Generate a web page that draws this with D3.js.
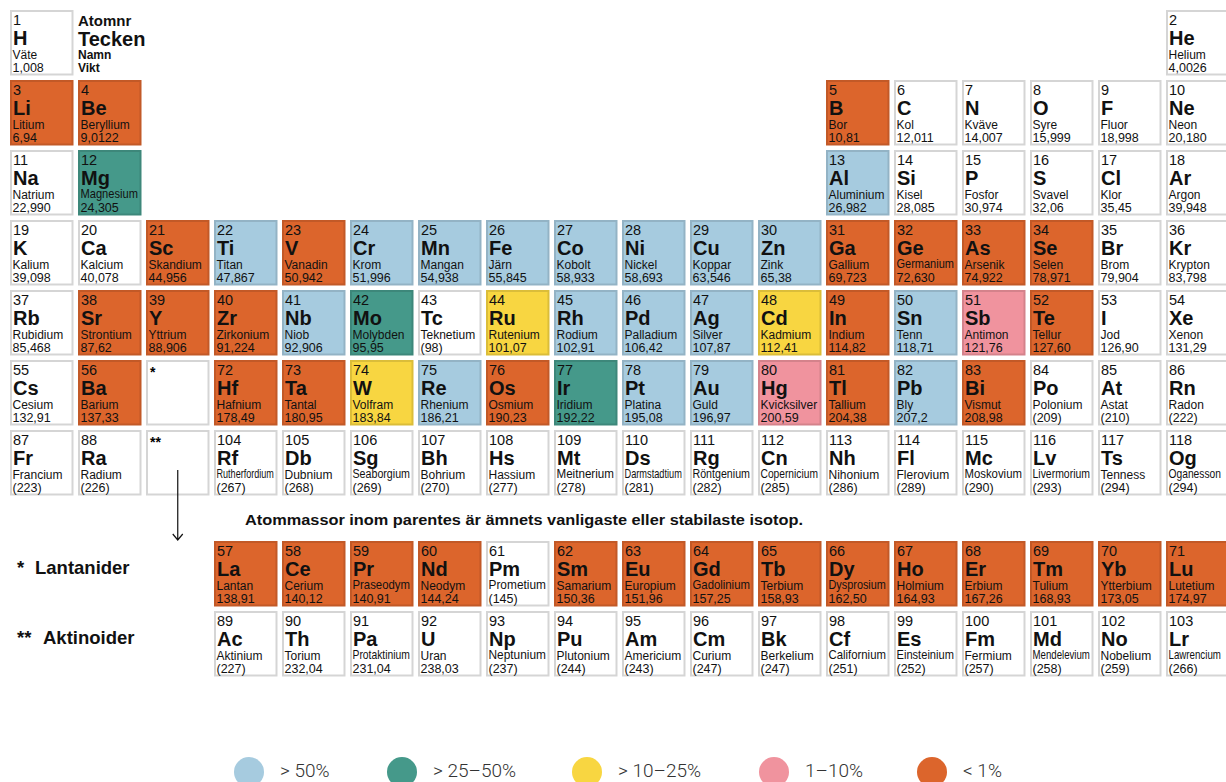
<!DOCTYPE html>
<html>
<head>
<meta charset="utf-8">
<script src="https://cdn.jsdelivr.net/npm/d3@7"></script>
<style>
  body { margin: 0; background: #fff; }
</style>
</head>
<body>
<svg id="chart" width="1226" height="782"></svg>
<script>
// atomic numbers, symbols, swedish names and weights, in order 1..118
const elNumbers = d3.range(1, 119);

const elSymbols = [
  "H","He",
  "Li","Be","B","C","N","O","F","Ne",
  "Na","Mg","Al","Si","P","S","Cl","Ar",
  "K","Ca","Sc","Ti","V","Cr","Mn","Fe","Co","Ni","Cu","Zn","Ga","Ge","As","Se","Br","Kr",
  "Rb","Sr","Y","Zr","Nb","Mo","Tc","Ru","Rh","Pd","Ag","Cd","In","Sn","Sb","Te","I","Xe",
  "Cs","Ba","La","Ce","Pr","Nd","Pm","Sm","Eu","Gd","Tb","Dy","Ho","Er","Tm","Yb","Lu",
  "Hf","Ta","W","Re","Os","Ir","Pt","Au","Hg","Tl","Pb","Bi","Po","At","Rn",
  "Fr","Ra","Ac","Th","Pa","U","Np","Pu","Am","Cm","Bk","Cf","Es","Fm","Md","No","Lr",
  "Rf","Db","Sg","Bh","Hs","Mt","Ds","Rg","Cn","Nh","Fl","Mc","Lv","Ts","Og"
];

const elNames = [
  "Väte","Helium",
  "Litium","Beryllium","Bor","Kol","Kväve","Syre","Fluor","Neon",
  "Natrium","Magnesium","Aluminium","Kisel","Fosfor","Svavel","Klor","Argon",
  "Kalium","Kalcium","Skandium","Titan","Vanadin","Krom","Mangan","Järn","Kobolt","Nickel","Koppar","Zink","Gallium","Germanium","Arsenik","Selen","Brom","Krypton",
  "Rubidium","Strontium","Yttrium","Zirkonium","Niob","Molybden","Teknetium","Rutenium","Rodium","Palladium","Silver","Kadmium","Indium","Tenn","Antimon","Tellur","Jod","Xenon",
  "Cesium","Barium","Lantan","Cerium","Praseodym","Neodym","Prometium","Samarium","Europium","Gadolinium","Terbium","Dysprosium","Holmium","Erbium","Tulium","Ytterbium","Lutetium",
  "Hafnium","Tantal","Volfram","Rhenium","Osmium","Iridium","Platina","Guld","Kvicksilver","Tallium","Bly","Vismut","Polonium","Astat","Radon",
  "Francium","Radium","Aktinium","Torium","Protaktinium","Uran","Neptunium","Plutonium","Americium","Curium","Berkelium","Californium","Einsteinium","Fermium","Mendelevium","Nobelium","Lawrencium",
  "Rutherfordium","Dubnium","Seaborgium","Bohrium","Hassium","Meitnerium","Darmstadtium","Röntgenium","Copernicium","Nihonium","Flerovium","Moskovium","Livermorium","Tenness","Oganesson"
];

const elWeights = [
  "1,008","4,0026",
  "6,94","9,0122","10,81","12,011","14,007","15,999","18,998","20,180",
  "22,990","24,305","26,982","28,085","30,974","32,06","35,45","39,948",
  "39,098","40,078","44,956","47,867","50,942","51,996","54,938","55,845","58,933","58,693","63,546","65,38","69,723","72,630","74,922","78,971","79,904","83,798",
  "85,468","87,62","88,906","91,224","92,906","95,95","(98)","101,07","102,91","106,42","107,87","112,41","114,82","118,71","121,76","127,60","126,90","131,29",
  "132,91","137,33","138,91","140,12","140,91","144,24","(145)","150,36","151,96","157,25","158,93","162,50","164,93","167,26","168,93","173,05","174,97",
  "178,49","180,95","183,84","186,21","190,23","192,22","195,08","196,97","200,59","204,38","207,2","208,98","(209)","(210)","(222)",
  "(223)","(226)","(227)","232,04","231,04","238,03","(237)","(244)","(243)","(247)","(247)","(251)","(252)","(257)","(258)","(259)","(266)",
  "(267)","(268)","(269)","(270)","(277)","(278)","(281)","(282)","(285)","(286)","(289)","(290)","(293)","(294)","(294)"
];

// table column (group) and row (period; 8 = lantanider, 9 = aktinoider)
const elGroups = [
  1,18,
  1,2,13,14,15,16,17,18,
  1,2,13,14,15,16,17,18,
  1,2,3,4,5,6,7,8,9,10,11,12,13,14,15,16,17,18,
  1,2,3,4,5,6,7,8,9,10,11,12,13,14,15,16,17,18,
  1,2,4,5,6,7,8,9,10,11,12,13,14,15,16,17,18,
  4,5,6,7,8,9,10,11,12,13,14,15,16,17,18,
  1,2,4,5,6,7,8,9,10,11,12,13,14,15,16,17,18,
  4,5,6,7,8,9,10,11,12,13,14,15,16,17,18
];

const elRows = [
  1,1,
  2,2,2,2,2,2,2,2,
  3,3,3,3,3,3,3,3,
  4,4,4,4,4,4,4,4,4,4,4,4,4,4,4,4,4,4,
  5,5,5,5,5,5,5,5,5,5,5,5,5,5,5,5,5,5,
  6,6,8,8,8,8,8,8,8,8,8,8,8,8,8,8,8,
  6,6,6,6,6,6,6,6,6,6,6,6,6,6,6,
  7,7,9,9,9,9,9,9,9,9,9,9,9,9,9,9,9,
  7,7,7,7,7,7,7,7,7,7,7,7,7,7,7
];

// abundance class: a >50%, b 25-50%, c 10-25%, d 1-10%, e <1%, "" none
const elAbundance = [
  "","",
  "e","e","e","","","","","",
  "","b","a","","","","","",
  "","","e","a","e","a","a","a","a","a","a","a","e","e","e","e","","",
  "","e","e","e","a","b","","c","a","a","a","c","e","a","d","e","","",
  "","e","e","e","e","e","","e","e","e","e","e","e","e","e","e","e",
  "e","e","c","a","e","b","a","a","d","e","a","e","","","",
  "","","","","","","","","","","","","","","","","",
  "","","","","","","","","","","","","","",""
];

const legendKeys = ["a","b","c","d","e"];
const legendLabels = ["> 50%", "> 25–50%", "> 10–25%", "1–10%", "< 1%"];
const legendColors = ["#a6cbdf", "#45998a", "#f8d641", "#f0939e", "#dc652c"];

const placeholders = [
  { group: 3, row: 6, mark: "*" },
  { group: 3, row: 7, mark: "**" }
];

const font = "'Liberation Sans', Arial, Helvetica, sans-serif";
const W = 1226;

const svg = d3.select("#chart");

const color = d3.scaleOrdinal().domain(legendKeys).range(legendColors);

const x = d3.scaleBand()
  .domain(d3.range(1, 19))
  .range([10, 1229.5])
  .paddingInner(4.5 / 68);

const yMain = d3.scaleBand()
  .domain(d3.range(1, 8))
  .range([10, 495.5])
  .paddingInner(4.5 / 70);

const yF = d3.scaleBand()
  .domain([8, 9])
  .range([541, 676.5])
  .paddingInner(4.5 / 70);

const y = r => (r <= 7 ? yMain(r) : yF(r));
const bw = x.bandwidth();
const bh = yMain.bandwidth();

const data = elNumbers.map((n, i) => ({
  num: n,
  sym: elSymbols[i],
  name: elNames[i],
  weight: elWeights[i],
  group: elGroups[i],
  row: elRows[i],
  ab: elAbundance[i]
}));

const cells = svg.append("g")
  .selectAll("g")
  .data(data)
  .join("g")
  .attr("transform", d => `translate(${x(d.group)},${y(d.row)})`);

cells.append("rect")
  .attr("x", 1).attr("y", 1)
  .attr("width", bw - 2).attr("height", bh - 2)
  .attr("fill", d => d.ab ? color(d.ab) : "#fff")
  .attr("stroke", d => d.ab ? d3.color(color(d.ab)).darker(0.35) : "#d5d5d5")
  .attr("stroke-width", 2);

cells.append("text")
  .attr("x", 3).attr("y", 15)
  .attr("font-size", "14.5px")
  .text(d => d.num);

cells.append("text")
  .attr("x", 3).attr("y", 34.5)
  .attr("font-size", "20px")
  .attr("font-weight", "bold")
  .text(d => d.sym);

cells.append("text")
  .attr("class", "nm")
  .attr("x", 2.5).attr("y", 48.5)
  .attr("font-size", "12px")
  .text(d => d.name);

cells.append("text")
  .attr("x", 2.5).attr("y", 61.5)
  .attr("font-size", "12.5px")
  .text(d => d.weight);

cells.selectAll("text")
  .attr("font-family", font)
  .attr("fill", "#111");

// squeeze long names horizontally into the cell (and inside the picture at the right edge)
cells.selectAll("text.nm").each(function (d) {
  const maxLen = Math.min(bw - 6, W - 5 - x(d.group) - 2.5);
  const len = this.getComputedTextLength();
  if (len > maxLen) {
    const k = maxLen / len;
    d3.select(this)
      .attr("x", 2.5 / k)
      .attr("transform", `scale(${k},1)`);
  }
});

// empty cells for the f-block markers
const ph = svg.append("g")
  .selectAll("g")
  .data(placeholders)
  .join("g")
  .attr("transform", d => `translate(${x(d.group)},${y(d.row)})`);

ph.append("rect")
  .attr("x", 1).attr("y", 1)
  .attr("width", bw - 2).attr("height", bh - 2)
  .attr("fill", "#fff")
  .attr("stroke", "#d5d5d5")
  .attr("stroke-width", 2);

ph.append("text")
  .attr("x", 4).attr("y", 17)
  .attr("font-size", "14px")
  .attr("font-weight", "bold")
  .attr("font-family", font)
  .text(d => d.mark);

// key in the top left
const key = svg.append("g")
  .attr("transform", `translate(${x(2)},${yMain(1)})`)
  .attr("font-family", font)
  .attr("fill", "#111");

key.append("text").attr("y", 16).attr("font-size", "15px").attr("font-weight", "bold").text("Atomnr");
key.append("text").attr("y", 36).attr("font-size", "20px").attr("font-weight", "bold").text("Tecken");
key.append("text").attr("y", 49).attr("font-size", "12px").attr("font-weight", "bold").text("Namn");
key.append("text").attr("y", 62).attr("font-size", "12px").attr("font-weight", "bold").text("Vikt");

// arrow down to the f-block
const ax = x(3) + bw / 2;
const a0 = yMain(7) + 40;
const a1 = yF(8) - 1;
svg.append("path")
  .attr("d", `M${ax},${a0}V${a1}M${ax - 5},${a1 - 6}L${ax},${a1}L${ax + 5},${a1 - 6}`)
  .attr("fill", "none")
  .attr("stroke", "#111")
  .attr("stroke-width", 1.2);

svg.append("text")
  .attr("x", x(4) + 31)
  .attr("y", yF(8) - 16)
  .attr("font-family", font)
  .attr("font-size", "15px")
  .attr("font-weight", "bold")
  .attr("fill", "#111")
  .attr("textLength", 558)
  .attr("lengthAdjust", "spacingAndGlyphs")
  .text("Atommassor inom parentes är ämnets vanligaste eller stabilaste isotop.");

// f-block row labels
const rowLabels = [
  { row: 8, mark: "*", label: "Lantanider", dx: 35 },
  { row: 9, mark: "**", label: "Aktinoider", dx: 43 }
];
const rl = svg.append("g").selectAll("g")
  .data(rowLabels)
  .join("g")
  .attr("transform", d => `translate(17,${yF(d.row) + 33})`)
  .attr("font-family", font)
  .attr("font-weight", "bold")
  .attr("font-size", "18.5px")
  .attr("fill", "#111");
rl.append("text").text(d => d.mark);
rl.append("text").attr("x", d => d.dx - 17).text(d => d.label);

// legend
const legendPos = [249, 402, 587, 774, 932];
const lg = svg.append("g").selectAll("g")
  .data(legendKeys)
  .join("g")
  .attr("transform", (d, i) => `translate(${legendPos[i]},772)`);

lg.append("circle")
  .attr("r", 15)
  .attr("fill", d => color(d));

lg.append("text")
  .attr("x", 31)
  .attr("y", 5)
  .attr("font-family", "Roboto, 'Liberation Sans', sans-serif")
  .attr("font-weight", 300)
  .attr("font-size", "19px")
  .attr("fill", "#333")
  .text((d, i) => legendLabels[i]);
</script>
</body>
</html>
